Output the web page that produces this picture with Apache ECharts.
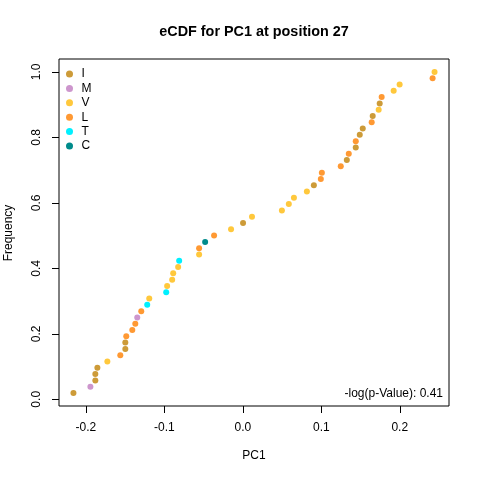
<!DOCTYPE html>
<html>
<head>
<meta charset="utf-8">
<script src="https://cdn.jsdelivr.net/npm/echarts@6/dist/echarts.min.js"></script>
<style>html,body{margin:0;padding:0;background:#fff}#c{width:480px;height:480px}</style>
</head>
<body>
<div id="c"></div>
<script>
// PC1 values (sorted) and residue at each point
const pc1 = [-0.2158,-0.1942,-0.1879,-0.1879,-0.1853,-0.1726,-0.1561,-0.1497,-0.1497,-0.1485,
  -0.1408,-0.1370,-0.1345,-0.1294,-0.1218,-0.1192,-0.0976,-0.0964,-0.0900,-0.0887,
  -0.0824,-0.0811,-0.0557,-0.0557,-0.0480,-0.0366,-0.0150,0.0003,0.0117,0.0498,
  0.0586,0.0651,0.0816,0.0905,0.0994,0.1007,0.1248,0.1325,0.1350,0.1439,
  0.1439,0.1490,0.1528,0.1642,0.1655,0.1731,0.1744,0.1769,0.1922,0.1998,
  0.2418,0.2443];
const residues = ['I','M','I','I','I','V','L','I','I','L',
  'L','L','M','L','T','V','T','V','V','V',
  'V','T','V','L','C','L','V','I','V','V',
  'V','V','V','I','L','L','L','I','L','I',
  'L','I','I','L','I','V','I','L','V','V',
  'L','V'];
const legendNames = ['I','M','V','L','T','C'];
const legendColors = ['#CD9B38','#CD96CD','#FFC83C','#FF9933','#00F0FF','#008B8B'];
const xTicks = [-0.2,-0.1,0.0,0.1,0.2];
const yTicks = [0.0,0.2,0.4,0.6,0.8,1.0];
const pValueText = '-log(p-Value): 0.41';

const N = pc1.length;
const series = legendNames.map((name, k) => ({
  name: name,
  type: 'scatter',
  symbol: 'circle',
  symbolSize: 6,
  itemStyle: {color: legendColors[k], opacity: 1},
  data: pc1.map((x, i) => residues[i] === name ? [x, (i + 1) / N] : null).filter(d => d),
  z: 3
}));

const font = '"Liberation Sans", Arial, sans-serif';
const chart = echarts.init(document.getElementById('c'), null, {renderer: 'canvas'});
chart.setOption({
  animation: false,
  backgroundColor: '#fff',
  textStyle: {fontFamily: font},
  grid: {left: 59, right: 31, top: 59, bottom: 74, show: true, borderColor: '#000', borderWidth: 1, backgroundColor: 'transparent'},
  xAxis: {
    type: 'value', min: -0.2342, max: 0.2627,
    axisLine: {show: false, onZero: false},
    splitLine: {show: false},
    axisTick: {show: true, inside: false, length: 7, lineStyle: {color: '#000'}, customValues: xTicks},
    axisLabel: {customValues: xTicks, formatter: v => v.toFixed(1), color: '#000', fontSize: 12, fontFamily: font, margin: 16}
  },
  yAxis: {
    type: 'value', min: -0.0205, max: 1.0394,
    axisLine: {show: false, onZero: false},
    splitLine: {show: false},
    axisTick: {show: true, inside: false, length: 7, lineStyle: {color: '#000'}, customValues: yTicks},
    axisLabel: {customValues: yTicks, formatter: v => v.toFixed(1), rotate: 90, color: '#000', fontSize: 12, fontFamily: font, margin: 16}
  },
  legend: {
    orient: 'vertical', left: 61, top: 63,
    itemWidth: 14, itemHeight: 7, itemGap: 2.4,
    icon: 'circle',
    data: legendNames,
    textStyle: {fontSize: 12, color: '#000', fontFamily: font, lineHeight: 12, padding: [0,0,0,0]},
    selectedMode: false
  },
  graphic: [
    {type: 'text', x: 254, y: 32, style: {text: 'eCDF for PC1 at position 27', font: 'bold 14.4px ' + font, fill: '#000', align: 'center', verticalAlign: 'middle'}},
    {type: 'text', x: 254, y: 456, style: {text: 'PC1', font: '12px ' + font, fill: '#000', align: 'center', verticalAlign: 'middle'}},
    {type: 'text', x: 9, y: 233, rotation: Math.PI / 2, style: {text: 'Frequency', font: '12px ' + font, fill: '#000', align: 'center', verticalAlign: 'middle'}},
    {type: 'text', x: 443, y: 394, style: {text: pValueText, font: '12px ' + font, fill: '#000', align: 'right', verticalAlign: 'middle'}}
  ],
  series: series
});
</script>
</body>
</html>
